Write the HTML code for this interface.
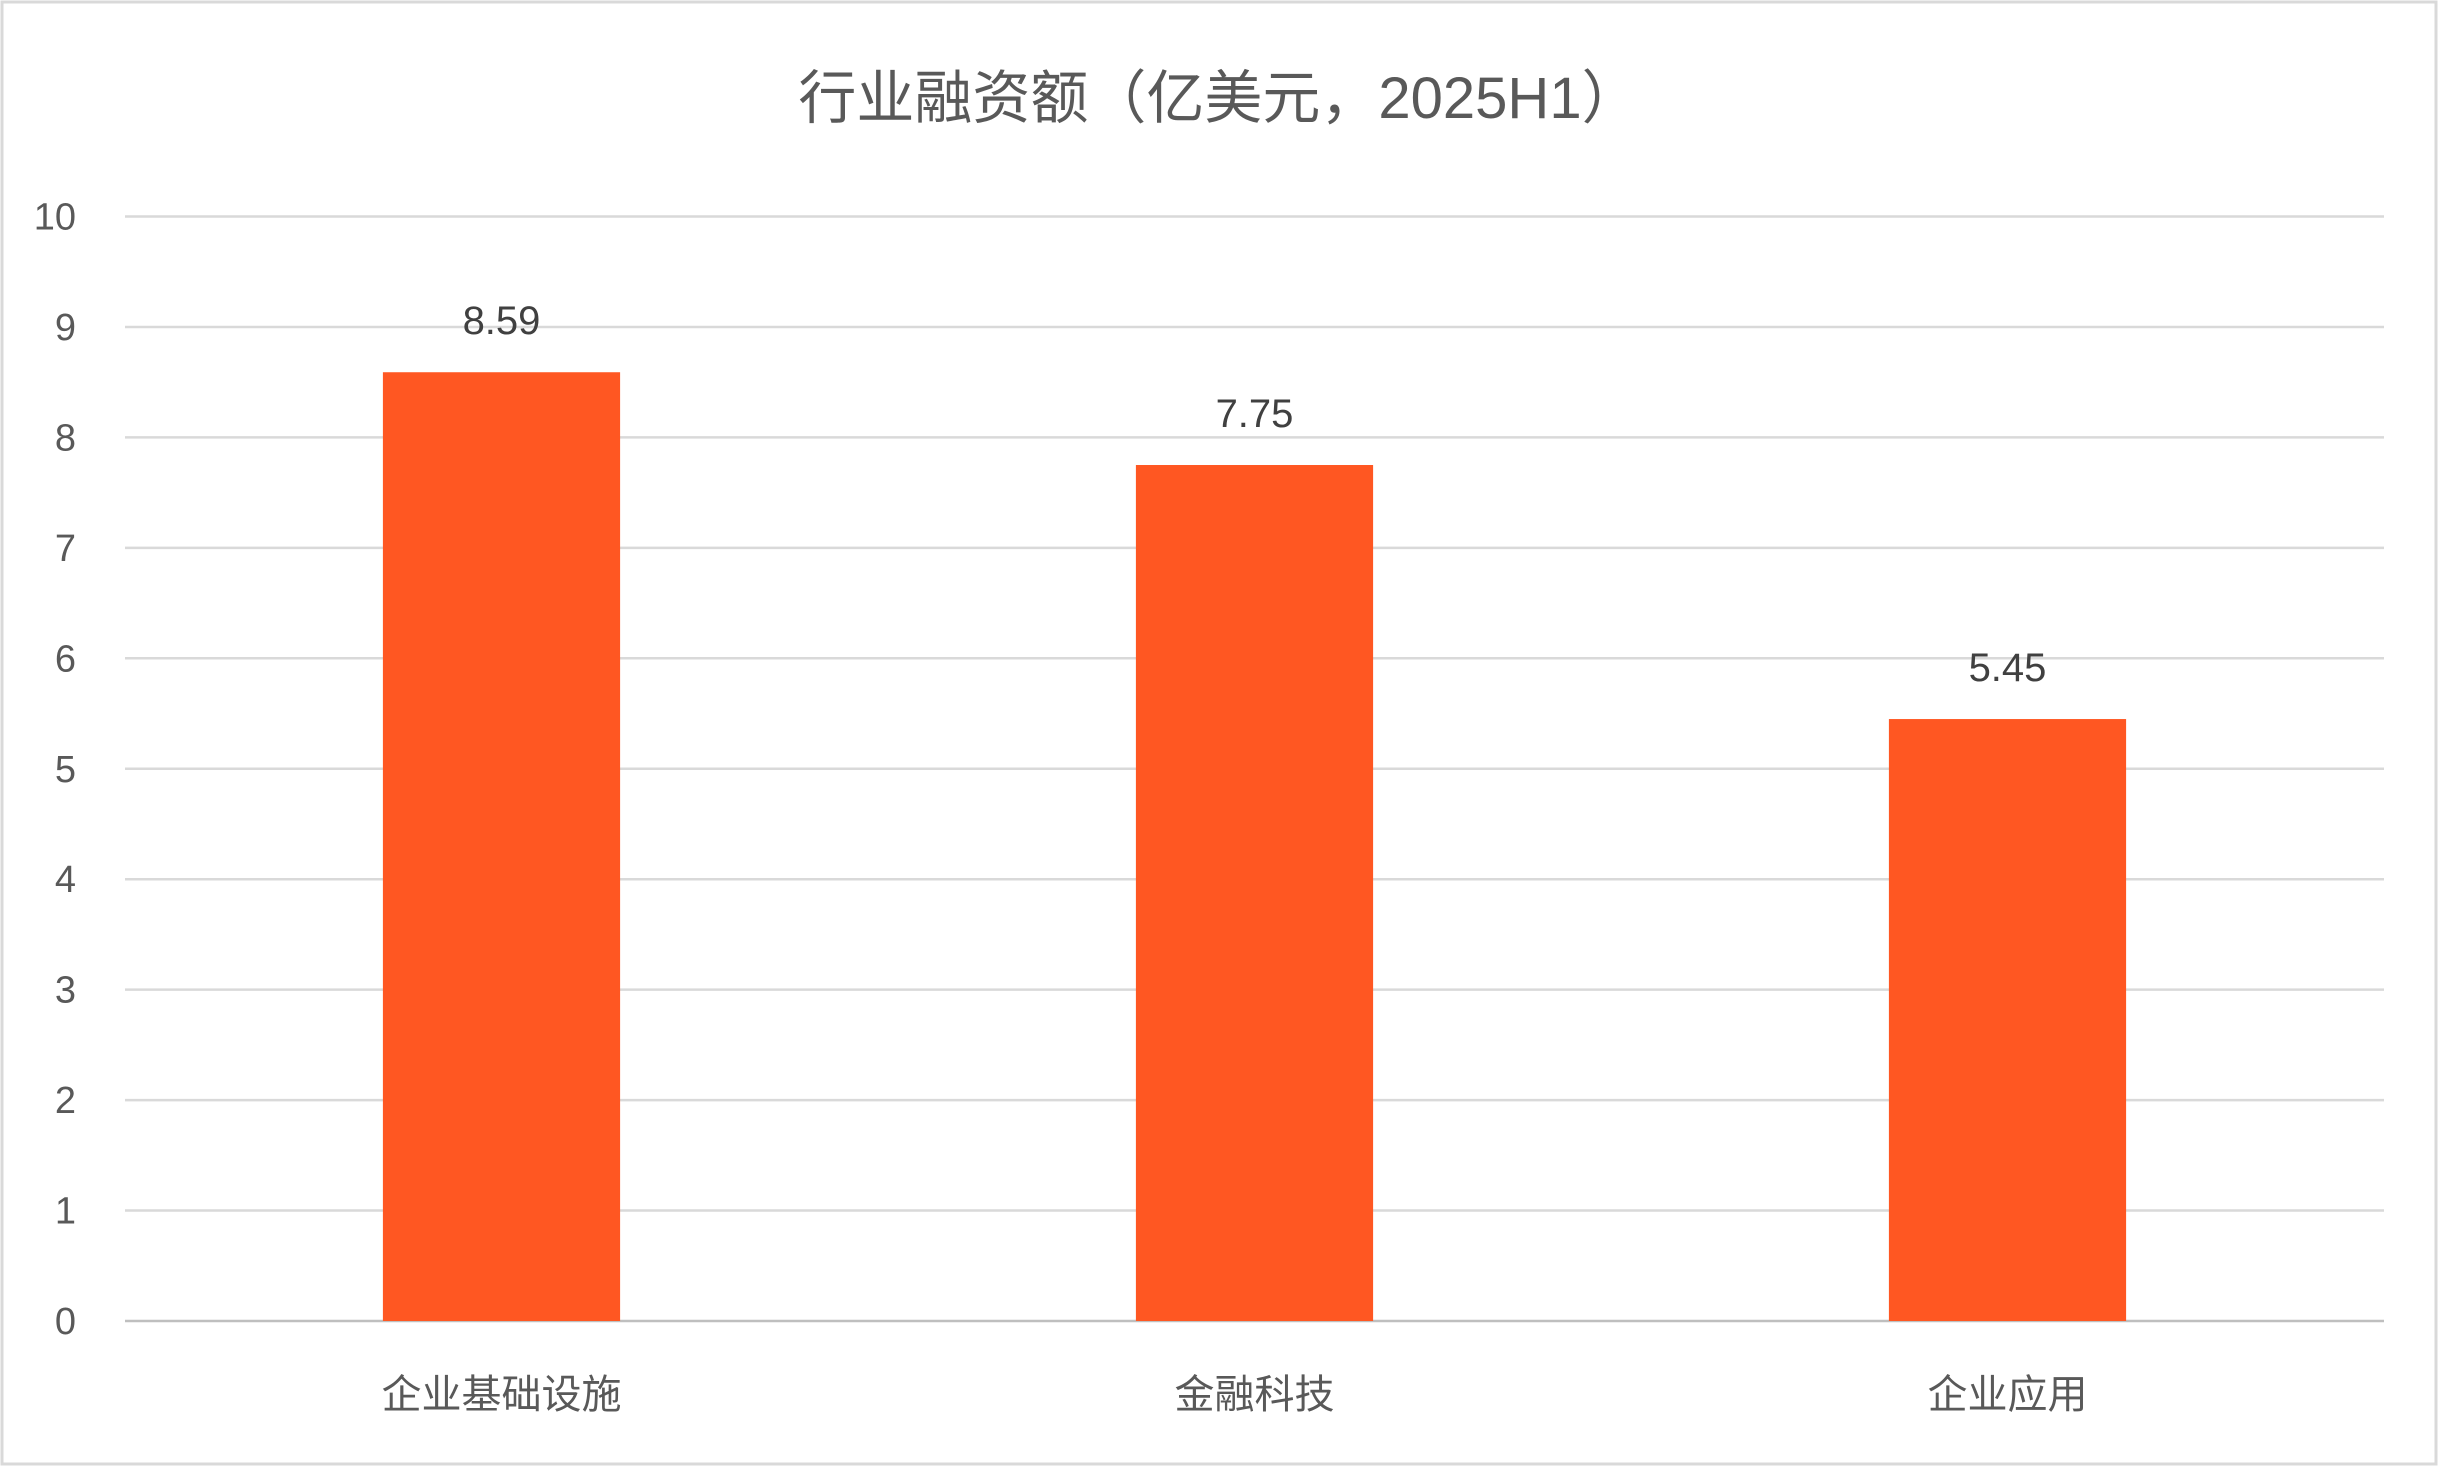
<!DOCTYPE html>
<html><head><meta charset="utf-8"><style>
html,body{margin:0;padding:0;background:#fff;}
svg{display:block;font-family:"Liberation Sans","Noto Sans CJK SC",sans-serif;}
</style></head><body>
<svg id="chart" width="2438" height="1466" viewBox="0 0 2438 1466" xmlns="http://www.w3.org/2000/svg">
<rect x="2" y="2" width="2434" height="1462" fill="#fff" stroke="#d9d9d9" stroke-width="3"/>
<text x="1219" y="118" text-anchor="middle" font-size="58" fill="#595959">行业融资额（亿美元，2025H1）</text>
<g id="grid"></g><g id="bars"></g><g id="labels"></g>
</svg>
<script>
const categories=["企业基础设施","金融科技","企业应用"];
const values=[8.59,7.75,5.45];
const valueLabels=["8.59","7.75","5.45"];
const ticks=[0,1,2,3,4,5,6,7,8,9,10];
const L=125,R=2384,T=216.5,B=1321,maxV=10;
const ns="http://www.w3.org/2000/svg";
const y=v=>B-(v/maxV)*(B-T);
const band=(R-L)/categories.length;
const x=i=>L+band*(i+0.5);
const bw=band*0.315;
const grid=document.getElementById('grid'),bars=document.getElementById('bars'),labels=document.getElementById('labels');
function mk(t,a){const e=document.createElementNS(ns,t);for(const k in a)e.setAttribute(k,a[k]);return e;}
ticks.forEach(t=>{
 const ln=mk('line',{x1:L,x2:R,y1:y(t),y2:y(t),stroke:t===0?'#bfbfbf':'#d9d9d9','stroke-width':2.5});
 
 
 grid.appendChild(ln);
 const tx=mk('text',{x:76,y:y(t)+13,'text-anchor':'end','font-size':38,fill:'#595959'});
 tx.textContent=t;
 
 
 labels.appendChild(tx);
});
categories.forEach((c,i)=>{
 const r=mk('rect',{x:x(i)-bw/2,y:y(values[i]),width:bw,height:B-y(values[i]),fill:'#FF5722'});
 
 
 bars.appendChild(r);
 const v=mk('text',{x:x(i),y:y(values[i])-38,'text-anchor':'middle','font-size':40,fill:'#404040'});
 v.textContent=valueLabels[i];
 
 
 labels.appendChild(v);
 const cl=mk('text',{x:x(i),y:1408,'text-anchor':'middle','font-size':40,fill:'#595959'});
 cl.textContent=c;
 
 
 labels.appendChild(cl);
});
</script>
</body></html>
